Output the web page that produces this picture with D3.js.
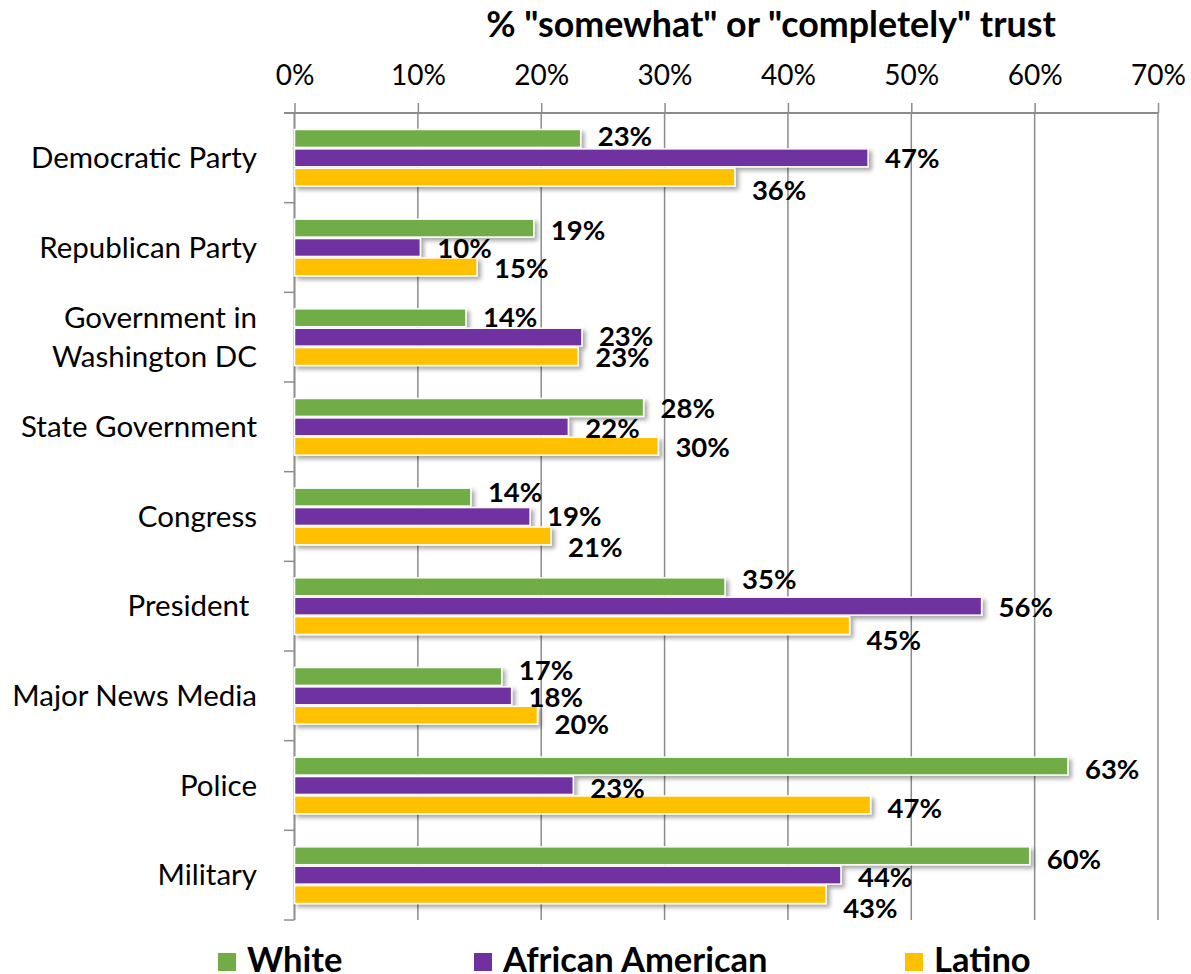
<!DOCTYPE html>
<html><head><meta charset="utf-8">
<script src="https://cdn.jsdelivr.net/npm/d3@7"></script>
<style>html,body{margin:0;padding:0;background:#fff;} svg{display:block;}</style>
</head><body>
<svg id="chart" width="1191" height="974"></svg>
<script>
const categories = ["Democratic Party","Republican Party","Government in\nWashington DC","State Government","Congress","President ","Major News Media","Police","Military"];
const seriesNames = ["White","African American","Latino"];
const white    = [23.2, 19.4, 13.9, 28.3, 14.3, 34.9, 16.8, 62.7, 59.6];
const african  = [46.5, 10.2, 23.3, 22.2, 19.1, 55.7, 17.6, 22.6, 44.3];
const latino   = [35.7, 14.8, 23.0, 29.5, 20.8, 45.0, 19.7, 46.7, 43.1];
const whiteLabels   = ["23%","19%","14%","28%","14%","35%","17%","63%","60%"];
const africanLabels = ["47%","10%","23%","22%","19%","56%","18%","23%","44%"];
const latinoLabels  = ["36%","15%","23%","30%","21%","45%","20%","47%","43%"];
const tickValues = [0,10,20,30,40,50,60,70];
const titleText = '% "somewhat" or "completely" trust';
// label vertical nudges (layout only)
const labelNudge = [[-2,0,13],[1.5,1,1.5],[-1,-0.6,1],[1,1.7,1.3],[-5.5,0,11.6],[-8,1.3,15],[-6,1.7,9.3],[2.5,3,3.6],[3,2.3,14]];

const colors = ["#70AD47","#7030A0","#FFC000"];
const font = "Lato, 'Open Sans', sans-serif";
const svg = d3.select("#chart");

const x = d3.scaleLinear().domain([0,70]).range([294.5,1158]);
const y = d3.scaleBand().domain(categories).range([113,920]).padding(0);
const step = y.bandwidth();
const slot = 19.4;
const ySub = d3.scaleBand().domain(seriesNames).range([(step-3*slot)/2,(step+3*slot)/2]).padding(0);

const defs = svg.append("defs");
const f = defs.append("filter").attr("id","sh").attr("x","-5%").attr("y","-50%").attr("width","115%").attr("height","250%");
f.append("feDropShadow").attr("dx",3).attr("dy",3).attr("stdDeviation",2).attr("flood-color","#000").attr("flood-opacity",0.35);

// gridlines
svg.append("g").selectAll("line").data(tickValues.slice(1)).join("line")
  .attr("x1",d=>x(d)).attr("x2",d=>x(d)).attr("y1",113).attr("y2",920)
  .attr("stroke","#8c8c8c").attr("stroke-width",1.5);

// top axis
const axTop = svg.append("g").attr("transform","translate(0,113)")
  .call(d3.axisTop(x).tickValues(tickValues).tickFormat(d=>d+"%").tickSize(10).tickPadding(18));
axTop.select(".domain").attr("stroke","#8c8c8c").attr("stroke-width",2).attr("d","M284,0H1158");
axTop.selectAll(".tick line").attr("stroke","#8c8c8c").attr("stroke-width",1.5);
axTop.selectAll(".tick text").attr("font-family",font).attr("font-size",28).attr("fill","#000");

// left axis
const leftG = svg.append("g");
leftG.append("line").attr("x1",x(0)).attr("x2",x(0)).attr("y1",113).attr("y2",920).attr("stroke","#8c8c8c").attr("stroke-width",2);
const bounds = categories.map(c=>y(c)).concat([920]);
leftG.selectAll("line.t").data(bounds).join("line").attr("class","t")
  .attr("x1",284).attr("x2",x(0)).attr("y1",d=>d).attr("y2",d=>d).attr("stroke","#8c8c8c").attr("stroke-width",1.5);

// category labels
categories.forEach(c=>{
  const lines = c.split("\n");
  const cy = y(c)+step/2;
  const lh = 39;
  const t = svg.append("text").attr("font-family",font).attr("font-size",29.5).attr("text-anchor","end").attr("fill","#000");
  lines.forEach((ln,i)=>{
    t.append("tspan").attr("x",257).attr("y",cy + (i-(lines.length-1)/2)*lh).attr("dy","0.35em").attr("xml:space","preserve").text(ln);
  });
});

// bars
const seriesData = [white, african, latino];
const seriesLabels = [whiteLabels, africanLabels, latinoLabels];
const barsG = svg.append("g");
seriesNames.forEach((s,si)=>{
  barsG.append("g").selectAll("rect").data(categories).join("rect")
    .attr("x",x(0)).attr("y",(c)=>y(c)+ySub(s)+0.75)
    .attr("width",(c,i)=>x(seriesData[si][i])-x(0)).attr("height",ySub.bandwidth()-1.5)
    .attr("fill",colors[si]).attr("stroke","#fff").attr("stroke-width",1.5)
    .attr("filter","url(#sh)");
});
// labels
seriesNames.forEach((s,si)=>{
  svg.append("g").selectAll("text").data(categories).join("text")
    .attr("x",(c,i)=>x(seriesData[si][i])+17)
    .attr("y",(c,i)=>y(c)+ySub(s)+ySub.bandwidth()/2+labelNudge[i][si])
    .attr("dy","0.36em")
    .attr("font-family",font).attr("font-size",27.5).attr("font-weight","bold").attr("fill","#000")
    .text((c,i)=>seriesLabels[si][i]);
});

// title
svg.append("text").attr("x",771).attr("y",24).attr("dy","0.36em").attr("text-anchor","middle")
  .attr("font-family",font).attr("font-size",35.8).attr("font-weight","bold").text(titleText);

// legend
const legendX = [218,474,905];
const lg = svg.append("g");
seriesNames.forEach((s,i)=>{
  lg.append("rect").attr("x",legendX[i]).attr("y",953).attr("width",18).attr("height",18).attr("fill",colors[i]);
  lg.append("text").attr("x",legendX[i]+29).attr("y",960).attr("dy","0.36em")
    .attr("font-family",font).attr("font-size",34.5).attr("font-weight","bold").text(s);
});
</script>
</body></html>
